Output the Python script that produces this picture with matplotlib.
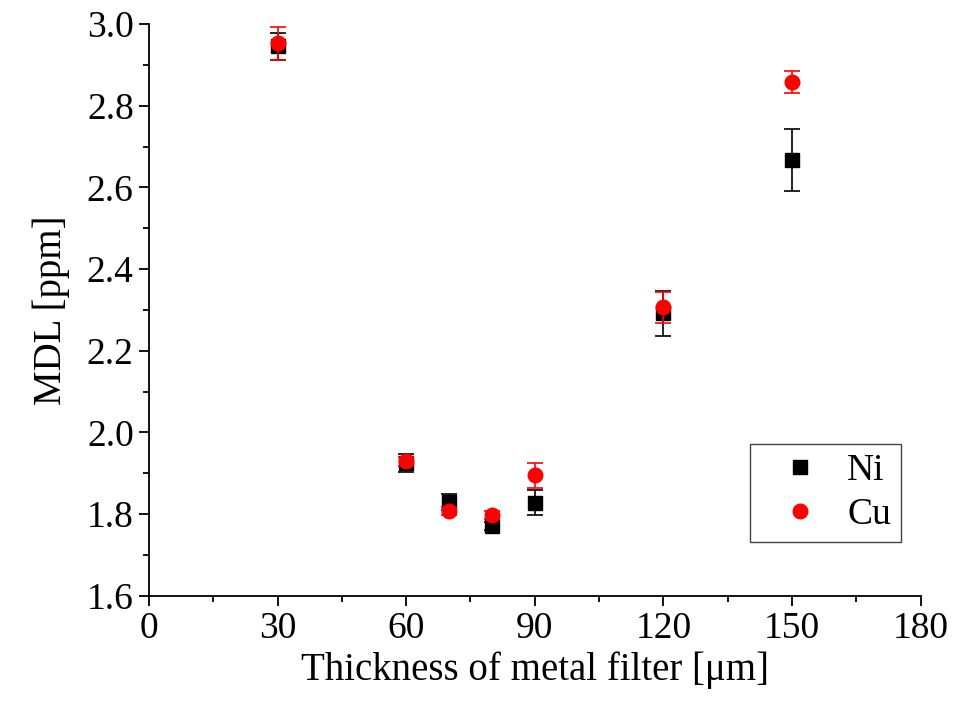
import matplotlib
matplotlib.use("Agg")
import matplotlib.pyplot as plt
from matplotlib.ticker import MultipleLocator

thickness = [30, 60, 70, 80, 90, 120, 150]
ni_mdl = [2.945, 1.925, 1.830, 1.771, 1.828, 2.292, 2.667]
ni_err = [0.032, 0.022, 0.020, 0.010, 0.030, 0.055, 0.075]
cu_mdl = [2.953, 1.929, 1.808, 1.797, 1.895, 2.306, 2.857]
cu_err = [0.040, 0.010, 0.010, 0.010, 0.031, 0.039, 0.027]

plt.rcParams['font.family'] = ['Liberation Serif', 'DejaVu Serif']

fig = plt.figure(figsize=(9.55, 7.06), dpi=100)
ax = fig.add_axes([0.156, 0.156, 0.808, 0.810])

ni = ax.errorbar(thickness, ni_mdl, yerr=ni_err, fmt='s', color='black', ms=9.5,
                 ecolor='black', elinewidth=1.2, capsize=6, capthick=1.2, zorder=3)
cu = ax.errorbar(thickness, cu_mdl, yerr=cu_err, fmt='o', color='red', ms=10.5,
                 ecolor='red', elinewidth=1.2, capsize=6, capthick=1.2, zorder=4)

ax.set_xlim(0, 180)
ax.set_ylim(1.6, 3.0)
ax.xaxis.set_major_locator(MultipleLocator(30))
ax.xaxis.set_minor_locator(MultipleLocator(15))
ax.yaxis.set_major_locator(MultipleLocator(0.2))
ax.yaxis.set_minor_locator(MultipleLocator(0.1))
ax.yaxis.set_major_formatter(plt.FuncFormatter(lambda v, p: f"{v:.1f}"))

for s in ['top', 'right']:
    ax.spines[s].set_visible(False)
for s in ['left', 'bottom']:
    ax.spines[s].set_linewidth(1.3)

ax.tick_params(which='major', direction='out', length=7, width=1.3, labelsize=27, pad=4)
ax.tick_params(which='minor', direction='out', length=4, width=1.3)

ax.set_xlabel('Thickness of metal filter [μm]', fontsize=28, labelpad=4)
ax.set_ylabel('MDL [ppm]', fontsize=28, labelpad=12)

leg = ax.legend([ni[0], cu[0]], ['Ni', 'Cu'], loc='lower right',
                bbox_to_anchor=(0.974, 0.095), fontsize=27,
                frameon=True, fancybox=False, edgecolor='#444444', framealpha=1,
                handlelength=2.2, handletextpad=0.15, borderpad=0.25, labelspacing=0.25,
                borderaxespad=0.0)
leg.get_frame().set_linewidth(1.0)

fig.savefig('out.png', dpi=100)
